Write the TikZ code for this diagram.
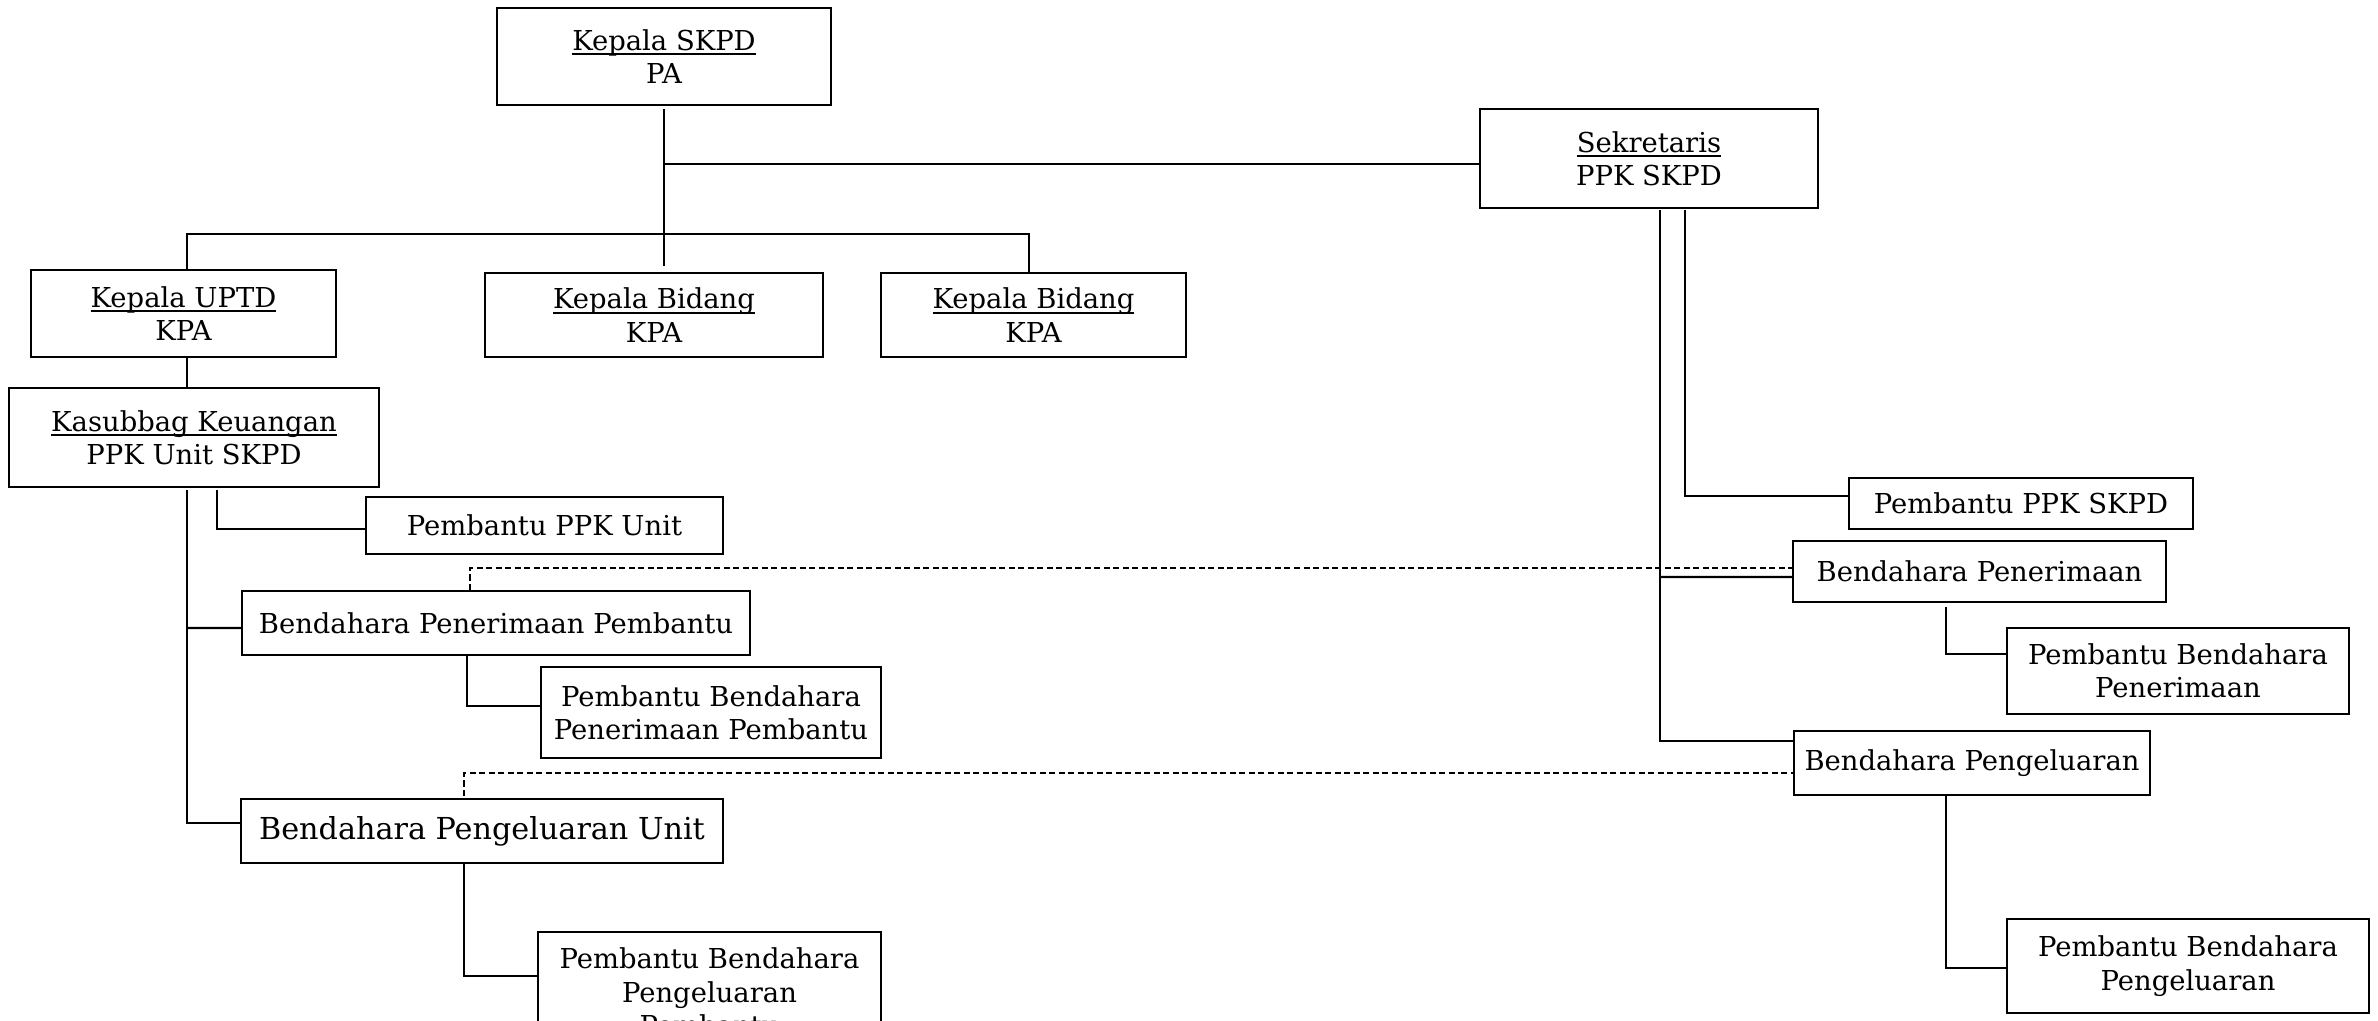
\documentclass[tikz,border=0pt]{standalone}
\usepackage{fontspec}
\setmainfont{DejaVu Serif}
\usetikzlibrary{calc}
\newcommand\ulx[1]{{\setbox0\hbox{#1}\rlap{\rule[-1.4pt]{\wd0}{0.55pt}}\box0}}
\begin{document}
\begin{tikzpicture}[x=0.01cm,y=-0.01cm,
  box/.style={draw,line width=0.6pt,rectangle,inner sep=0pt,align=center,
    font=\fontsize{7.8}{9.5}\selectfont},
  conn/.style={line width=0.65pt},
  dconn/.style={line width=0.65pt,dash pattern=on 0.06cm off 0.035cm}]
\useasboundingbox (0,0) rectangle (2378,1021);
% boxes
\node[box,minimum width=3.34cm,minimum height=0.97cm] (ks) at (664,56.5) {\ulx{Kepala SKPD}\\PA};
\node[box,minimum width=3.38cm,minimum height=0.99cm] (sek) at (1649,158.5) {\ulx{Sekretaris}\\PPK SKPD};
\node[box,minimum width=3.05cm,minimum height=0.87cm] (uptd) at (183.5,313.5) {\ulx{Kepala UPTD}\\KPA};
\node[box,minimum width=3.38cm,minimum height=0.84cm] (kb1) at (654,315) {\ulx{Kepala Bidang}\\KPA};
\node[box,minimum width=3.05cm,minimum height=0.84cm] (kb2) at (1033.5,315) {\ulx{Kepala Bidang}\\KPA};
\node[box,minimum width=3.70cm,minimum height=0.99cm] (kas) at (194,437.5) {\ulx{Kasubbag Keuangan}\\PPK Unit SKPD};
\node[box,minimum width=3.57cm,minimum height=0.57cm] (ppku) at (544.5,525.5) {Pembantu PPK Unit};
\node[box,minimum width=5.08cm,minimum height=0.64cm] (bpp) at (496,623) {Bendahara Penerimaan Pembantu};
\node[box,minimum width=3.40cm,minimum height=0.91cm] (pbpp) at (711,712.5) {Pembantu Bendahara\\Penerimaan Pembantu};
\node[box,minimum width=4.82cm,minimum height=0.64cm,font=\fontsize{8.6}{10}\selectfont] (bpu) at (482,831) {Bendahara Pengeluaran Unit};
\node[box,minimum width=3.43cm,minimum height=1.20cm] (pbpu) at (709.5,992) {Pembantu Bendahara\\Pengeluaran\\Pembantu};
\node[box,minimum width=3.44cm,minimum height=0.51cm] (pppk) at (2021,503.5) {Pembantu PPK SKPD};
\node[box,minimum width=3.73cm,minimum height=0.61cm] (bpn) at (1979.5,571.5) {Bendahara Penerimaan};
\node[box,minimum width=3.42cm,minimum height=0.86cm] (pbpn) at (2178,671) {Pembantu Bendahara\\Penerimaan};
\node[box,minimum width=3.56cm,minimum height=0.64cm] (bpk) at (1972,763) {Bendahara Pengeluaran};
\node[box,minimum width=3.62cm,minimum height=0.94cm] (pbpk) at (2188,966) {Pembantu Bendahara\\Pengeluaran};
% junctions
\coordinate (jA) at (664,164);
\coordinate (jB) at (187,234);
\coordinate (jC) at (1029,234);
\coordinate (kL) at (187,490);
\coordinate (kR) at (217,490);
\coordinate (jD) at (467,655);
\coordinate (jE) at (470,590);
\coordinate (jF) at (464,796);
\coordinate (sL) at (1660,210);
\coordinate (sR) at (1685,210);
\coordinate (jH) at (1946,607);
% connectors
\draw[conn,shorten >=0.06cm] ([yshift=-0.03cm]ks.south) -- (ks.south |- kb1.north);
\draw[conn] (jA) -- (jA -| sek.west);
\draw[conn] (uptd.north -| jB) -- (jB) -- (jC) -- (jC |- kb2.north);
\draw[conn] (uptd.south -| jB) -- (kas.north -| jB);
\draw[conn] (kR) |- ([yshift=-0.035cm]ppku.west);
\draw[conn] (kL) |- ([yshift=0.08cm]bpu.west);
\draw[conn] (kL |- bpp.west) ++(0,5) -- ([yshift=-0.05cm]bpp.west);
\draw[conn] (jD) |- ([yshift=0.065cm]pbpp.west);
\draw[dconn] (jE) |- ([yshift=0.035cm]bpn.west);
\draw[dconn] (jF) |- ([yshift=-0.1cm]bpk.west);
\draw[conn] (bpu.south -| jF) |- ([yshift=0.16cm]pbpu.west);
\draw[conn] (sR) |- ([yshift=0.075cm]pppk.west);
\draw[conn] (sL) |- ([yshift=0.22cm]bpk.west);
\draw[conn] (sL |- bpn.west) ++(0,5.5) -- ([yshift=-0.055cm]bpn.west);
\draw[conn] (jH) |- ([yshift=0.17cm]pbpn.west);
\draw[conn] (bpk.south -| jH) |- ([yshift=-0.02cm]pbpk.west);
\end{tikzpicture}
\end{document}
